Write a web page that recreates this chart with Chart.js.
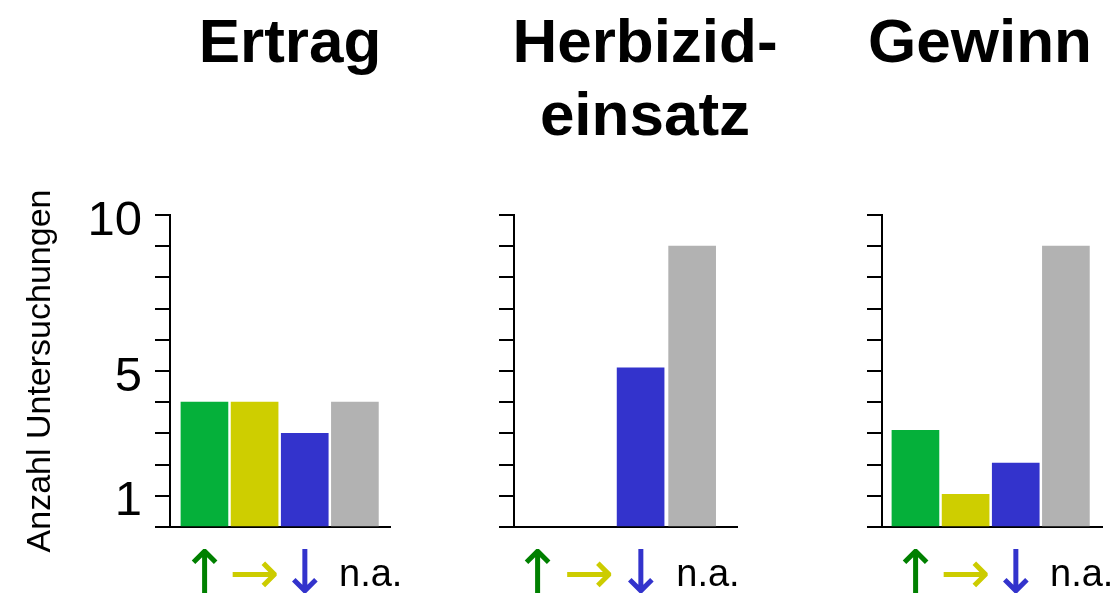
<!DOCTYPE html>
<html>
<head>
<meta charset="utf-8">
<script src="https://cdn.jsdelivr.net/npm/chart.js@4.4.1/dist/chart.umd.min.js"></script>
<style>
body { margin: 0; background: #fff; width: 1110px; height: 596px; position: relative; overflow: hidden; font-family: "Liberation Sans", Arial, sans-serif; }
canvas { position: absolute; top: 0; }
.ttl { position: absolute; top: 4px; width: 400px; text-align: center; font-weight: bold; font-size: 62px; line-height: 73px; color: #000; }
</style>
</head>
<body>
<div class="ttl" style="left:90px">Ertrag</div>
<div class="ttl" style="left:445px">Herbizid-<br>einsatz</div>
<div class="ttl" style="left:780px">Gewinn</div>
<canvas id="c1" width="400" height="596" style="left:0px"></canvas>
<canvas id="c2" width="345" height="596" style="left:400px"></canvas>
<canvas id="c3" width="365" height="596" style="left:745px"></canvas>
<script>
const categories = ['↑', '→', '↓', '   n.a.'];
const ertrag = [4, 4, 3, 4];
const herbizid = [0, 0, 5.1, 9];
const gewinn = [3.1, 1.05, 2.05, 9];
const yTickLabels = [1, 5, 10];

const barColors = ['#05b03a', '#cece00', '#3333cc', '#b2b2b2'];
const labelColors = ['#008000', '#cccc00', '#3333cc', '#000000'];

const arrowFont = { family: '"DejaVu Sans"', size: 60, lineHeight: 1.27 };
const naFont = { family: '"Liberation Sans"', size: 38, lineHeight: 1.94 };

function makeChart(id, values, opts) {
    const ctx = document.getElementById(id).getContext('2d');
    return new Chart(ctx, {
        type: 'bar',
        data: {
            datasets: [{
                data: values.map((v, i) => ({ x: i, y: v })),
                backgroundColor: c => (c.raw && c.raw.y === 0) ? 'rgba(0,0,0,0)' : barColors[c.dataIndex],
                borderWidth: 0,
                barThickness: 47
            }]
        },
        options: {
            responsive: false,
            animation: false,
            devicePixelRatio: 1,
            layout: { padding: { top: 215, right: opts.right, bottom: 0, left: 0 } },
            plugins: { legend: { display: false }, tooltip: { enabled: false } },
            scales: {
                x: {
                    type: 'linear',
                    offset: false,
                    min: opts.min,
                    max: opts.max,
                    afterBuildTicks: s => { s.ticks = categories.map((c, i) => ({ value: i })); },
                    afterFit: s => { s.height = 69; s.paddingLeft = 0; s.paddingRight = 0; },
                    grid: { display: false },
                    border: { display: true, color: '#000', width: 2 },
                    ticks: {
                        autoSkip: false,
                        maxRotation: 0,
                        padding: 4,
                        callback: v => categories[v],
                        color: c => labelColors[c.index],
                        font: c => c.index < 3 ? arrowFont : naFont
                    }
                },
                y: {
                    min: 0,
                    max: 10,
                    afterFit: s => { s.width = opts.yWidth; },
                    grid: { drawOnChartArea: false, tickLength: 15, color: '#000', lineWidth: 2 },
                    border: { color: '#000', width: 2 },
                    ticks: {
                        stepSize: 1,
                        autoSkip: false,
                        padding: 13,
                        labelOffset: 6,
                        color: '#000',
                        font: { family: 'Liberation Sans', size: 49 },
                        callback: v => (opts.showLabels && yTickLabels.includes(v)) ? String(v) : ''
                    },
                    title: {
                        display: opts.showLabels,
                        text: 'Anzahl Untersuchungen',
                        color: '#000',
                        font: { family: 'Liberation Sans', size: 34 },
                        padding: { top: 20, bottom: 0 }
                    }
                }
            }
        }
    });
}

const chartErtrag = makeChart('c1', ertrag, { min: -0.687, max: 3.70, yWidth: 170, right: 10, showLabels: true });
const chartHerbizid = makeChart('c2', herbizid, { min: -0.456, max: 3.87, yWidth: 114, right: 8, showLabels: false });
const chartGewinn = makeChart('c3', gewinn, { min: -0.667, max: 3.72, yWidth: 137, right: 8, showLabels: false });
</script>
</body>
</html>
